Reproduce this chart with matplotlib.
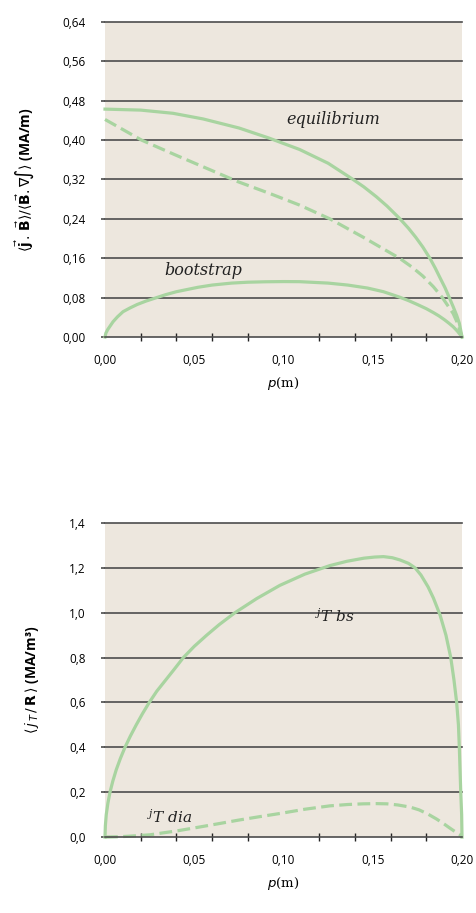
import numpy as np
import matplotlib
matplotlib.use('Agg')
import matplotlib.pyplot as plt
from matplotlib.ticker import MultipleLocator, FuncFormatter

plt.rcParams['font.family'] = ['Open Sans', 'DejaVu Sans']
plt.rcParams['mathtext.fontset'] = 'dejavusans'

# top panel: <j.B>/<B.grad psi>
x_eq = [0.0, 0.02, 0.0381, 0.055, 0.0751, 0.092, 0.109, 0.125, 0.139, 0.145, 0.152, 0.158, 0.165, 0.170,
        0.174, 0.178, 0.182, 0.185, 0.188, 0.1905, 0.193, 0.195, 0.197, 0.1985, 0.2]
y_eq = [0.463, 0.461, 0.4545, 0.443, 0.4246, 0.404, 0.381, 0.353, 0.320, 0.305, 0.285, 0.266, 0.241, 0.221,
        0.203, 0.183, 0.160, 0.140, 0.118, 0.100, 0.079, 0.062, 0.044, 0.028, 0.0]
x_eq_dash = [0.0, 0.0205, 0.04, 0.06, 0.0745, 0.092, 0.109, 0.126, 0.145, 0.165, 0.172, 0.178, 0.184,
             0.189, 0.192, 0.195, 0.1975, 0.2]
y_eq_dash = [0.442, 0.400, 0.369, 0.338, 0.3155, 0.292, 0.268, 0.240, 0.202, 0.160, 0.142, 0.124, 0.102,
             0.080, 0.064, 0.048, 0.028, 0.0]
x_bs = [0.0, 0.0005, 0.0015, 0.003, 0.0045, 0.007, 0.0101, 0.014, 0.018, 0.023, 0.0289, 0.034, 0.04, 0.0521,
        0.06, 0.0709, 0.08, 0.09, 0.10, 0.109, 0.125, 0.136, 0.147, 0.156, 0.165, 0.170, 0.175, 0.18, 0.184,
        0.187, 0.19, 0.1925, 0.195, 0.1975, 0.2]
y_bs = [0.0, 0.008, 0.015, 0.023, 0.031, 0.041, 0.0514, 0.059, 0.066, 0.073, 0.080, 0.086, 0.092, 0.101,
        0.1055, 0.1095, 0.1113, 0.1122, 0.1126, 0.1124, 0.1095, 0.1055, 0.0995, 0.092, 0.081, 0.074, 0.066,
        0.0575, 0.0495, 0.043, 0.0355, 0.0285, 0.021, 0.0115, 0.0]

# bottom panel: <j_T/R>
x_jbs = [0.0, 0.0002, 0.0007, 0.0016, 0.0028, 0.0044, 0.0063, 0.0086, 0.0112, 0.0142, 0.0175, 0.021, 0.0248,
         0.029, 0.034, 0.039, 0.0439, 0.050, 0.057, 0.064, 0.0728, 0.085, 0.098, 0.112, 0.126, 0.1354, 0.145,
         0.151, 0.156, 0.161, 0.1653, 0.170, 0.1737, 0.177, 0.181, 0.184, 0.1877, 0.191, 0.1937, 0.1955,
         0.197, 0.198, 0.1985, 0.1993, 0.1998, 0.2]
y_jbs = [0.0, 0.05, 0.10, 0.15, 0.20, 0.25, 0.30, 0.35, 0.40, 0.45, 0.50, 0.55, 0.60,
         0.65, 0.70, 0.75, 0.80, 0.85, 0.90, 0.947, 1.00, 1.063, 1.122, 1.172, 1.210, 1.229, 1.243,
         1.248, 1.250, 1.245, 1.235, 1.220, 1.20, 1.168, 1.115, 1.065, 0.99, 0.90, 0.80, 0.70,
         0.60, 0.50, 0.40, 0.20, 0.10, 0.0]
x_jdia = [0.0, 0.006, 0.012, 0.018, 0.0252, 0.032, 0.04, 0.0532, 0.064, 0.0745, 0.086, 0.098, 0.112, 0.126,
          0.136, 0.1447, 0.152, 0.158, 0.164, 0.1709, 0.176, 0.181, 0.1858, 0.19, 0.193, 0.1965, 0.1989, 0.2]
y_jdia = [0.0, 0.001, 0.003, 0.006, 0.010, 0.018, 0.027, 0.045, 0.060, 0.075, 0.090, 0.105, 0.124, 0.139,
          0.145, 0.148, 0.149, 0.148, 0.143, 0.1336, 0.121, 0.102, 0.080, 0.058, 0.041, 0.022, 0.010, 0.0]

bg = '#ede7de'
green = '#a8d4a0'
gridc = '#4d4d4d'

fig = plt.figure(figsize=(4.76, 9.13), dpi=100)
ax1 = fig.add_axes([0.2206, 0.6309, 0.75, 0.345])
ax2 = fig.add_axes([0.2206, 0.0832, 0.75, 0.344])

comma = FuncFormatter(lambda v, p: ('%.2f' % v).replace('.', ','))
comma1 = FuncFormatter(lambda v, p: ('%.1f' % v).replace('.', ','))


def style(ax, ymax, ystep, yfmt):
    ax.set_facecolor(bg)
    ax.set_xlim(0, 0.2)
    ax.set_ylim(0, ymax)
    for s in ['top', 'right', 'left']:
        ax.spines[s].set_visible(False)
    ax.spines['bottom'].set_color(gridc)
    ax.spines['bottom'].set_linewidth(1.2)
    ax.yaxis.set_major_locator(MultipleLocator(ystep))
    ax.yaxis.set_major_formatter(yfmt)
    for v in np.arange(ystep, ymax + ystep / 2, ystep):
        ax.axhline(v, color=gridc, lw=1.2, clip_on=False, zorder=0.5)
    ax.tick_params(axis='y', length=3, width=1.2, color=gridc, pad=11, labelsize=8.5)
    ax.xaxis.set_major_locator(MultipleLocator(0.05))
    ax.xaxis.set_major_formatter(comma)
    ax.xaxis.set_minor_locator(MultipleLocator(0.02))
    ax.tick_params(axis='x', which='major', length=0, pad=12, labelsize=8.5)
    ax.tick_params(axis='x', which='minor', length=6, width=1, direction='inout', color='#222222')
    ax.set_xlabel(r'$p$(m)', fontsize=9.5, family='DejaVu Serif', labelpad=6)


style(ax1, 0.64, 0.08, comma)
ax1.plot(x_eq, y_eq, color=green, lw=2.3, clip_on=False, solid_joinstyle='round')
ax1.plot(x_eq_dash, y_eq_dash, color=green, lw=2.3, ls=(0, (4, 1.7)), clip_on=False)
ax1.plot(x_bs, y_bs, color=green, lw=2.3, clip_on=False, solid_joinstyle='round')
ax1.text(0.128, 0.441, 'equilibrium', family='DejaVu Serif', style='italic', fontsize=11.5,
         ha='center', va='center', color='#222222')
ax1.text(0.055, 0.136, 'bootstrap', family='DejaVu Serif', style='italic', fontsize=11.5,
         ha='center', va='center', color='#222222')
ax1.set_ylabel(r'$\langle\vec{\mathbf{j}}\,.\,\vec{\mathbf{B}}\rangle/\langle\vec{\mathbf{B}}.\nabla\!\int\rangle$ (MA/m)',
               fontsize=10, fontweight='bold')
ax1.yaxis.set_label_coords(-0.19, 0.5)

style(ax2, 1.4, 0.2, comma1)
ax2.plot(x_jbs, y_jbs, color=green, lw=2.3, clip_on=False, solid_joinstyle='round')
ax2.plot(x_jdia, y_jdia, color=green, lw=2.3, ls=(0, (4, 1.7)), clip_on=False)
plt.rcParams['mathtext.fontset'] = 'dejavuserif'
ax2.text(0.129, 0.98, r'$^{j}T\ bs$', fontsize=11, ha='center', va='center', color='#222222')
ax2.text(0.036, 0.086, r'$^{j}T\ dia$', fontsize=11, ha='center', va='center', color='#222222')
ax2.set_ylabel(r'$\langle\,j_{\,T}\,/\,\mathbf{R}\,\rangle$ (MA/m³)', fontsize=10, fontweight='bold')
ax2.yaxis.set_label_coords(-0.18, 0.5)

fig.savefig('out.png', dpi=100)
